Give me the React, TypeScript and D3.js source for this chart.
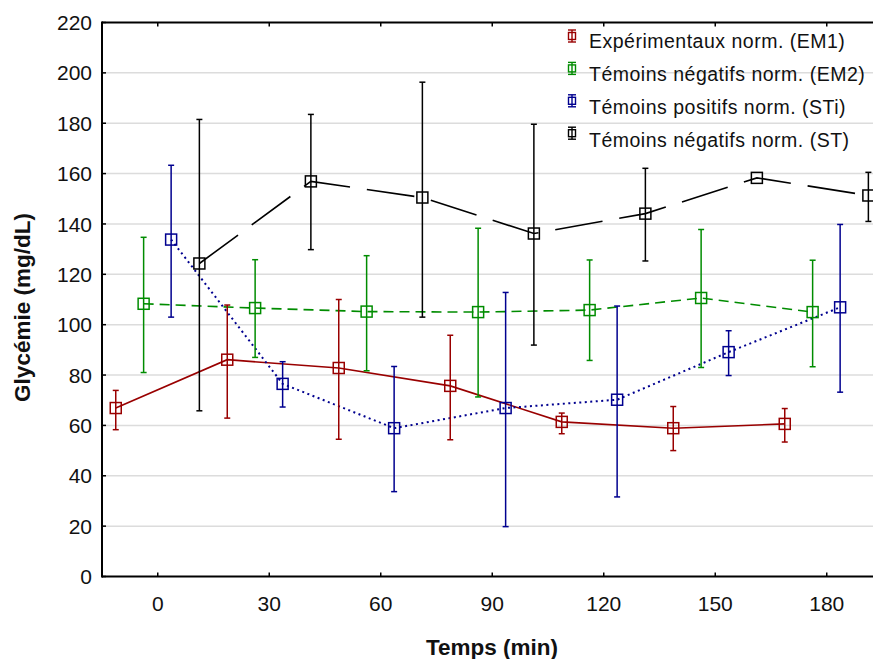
import * as d3 from "d3";

const times = [0, 30, 60, 90, 120, 150, 180];
const xTicks = [0, 30, 60, 90, 120, 150, 180];
const yTicks = [0, 20, 40, 60, 80, 100, 120, 140, 160, 180, 200, 220];

// EM1
const em1Mean = [66.9, 86.1, 82.8, 75.7, 61.4, 58.9, 60.6];
const em1Low = [58.3, 62.9, 54.5, 54.3, 56.7, 50.0, 53.4];
const em1High = [73.9, 107.8, 110.0, 95.8, 64.9, 67.5, 66.7];
// EM2
const em2Mean = [108.3, 106.6, 105.2, 105.0, 105.8, 110.6, 105.0];
const em2Low = [81.0, 87.0, 81.7, 71.3, 85.8, 83.0, 83.3];
const em2High = [134.7, 125.8, 127.4, 138.3, 125.7, 137.8, 125.6];
// STi
const stiMean = [133.8, 76.5, 58.9, 66.9, 70.2, 89.1, 106.9];
const stiLow = [103.0, 67.3, 33.7, 19.8, 31.6, 79.8, 73.2];
const stiHigh = [163.3, 85.3, 83.4, 112.8, 107.4, 97.6, 139.8];
// ST
const stMean = [124.3, 156.9, 150.5, 136.2, 144.1, 158.3, 151.3];
const stLow = [65.8, 129.8, 103.0, 91.9, 125.3, 158.3, 141.0];
const stHigh = [181.5, 183.5, 196.3, 179.6, 162.1, 158.3, 160.5];

const seriesNames = [
  "Expérimentaux norm. (EM1)",
  "Témoins négatifs norm. (EM2)",
  "Témoins positifs norm. (STi)",
  "Témoins négatifs norm. (ST)",
];

const series = [
  { name: seriesNames[0], mean: em1Mean, low: em1Low, high: em1High, shift: -11.3, color: "#990000", dash: "" },
  { name: seriesNames[1], mean: em2Mean, low: em2Low, high: em2High, shift: -3.8, color: "#008c00", dash: "10 6" },
  { name: seriesNames[2], mean: stiMean, low: stiLow, high: stiHigh, shift: 3.6, color: "#00008f", dash: "2 3.5" },
  { name: seriesNames[3], mean: stMean, low: stLow, high: stHigh, shift: 11.2, color: "#000000", dash: "48 17" },
];

export default function App() {
  const width = 873;
  const height = 659;
  const margin = { top: 22.5, left: 102, bottom: 82.5 };

  const xScale = d3.scaleLinear().domain([-15, 195]).range([margin.left, margin.left + 210 * (111.5 / 30)]);
  const yScale = d3.scaleLinear().domain([0, 220]).range([height - margin.bottom, margin.top]);

  const font = "'Liberation Sans', Arial, sans-serif";
  const y0 = yScale(0);
  const yTop = yScale(220);

  return (
    <svg width={width} height={height} style={{ position: "absolute", left: 0, top: 0 }} fontFamily={font}>
      <rect width={width} height={height} fill="#fff" />
      {/* grid */}
      {yTicks.slice(1, -1).map((t) => (
        <line key={t} x1={margin.left} x2={width} y1={yScale(t)} y2={yScale(t)} stroke="#dcdcdc" strokeWidth={1.5} />
      ))}

      {/* series lines */}
      {series.map((s) => {
        const gen = d3
          .line<number>()
          .x((_, i) => xScale(times[i] + s.shift))
          .y((d) => yScale(d));
        return (
          <path
            key={s.name + "l"}
            d={gen(s.mean) || ""}
            fill="none"
            stroke={s.color}
            strokeWidth={s.dash === "2 3.5" ? 2 : 1.6}
            strokeDasharray={s.dash || undefined}
          />
        );
      })}

      {/* error bars and markers */}
      {series.map((s) => (
        <g key={s.name + "e"} stroke={s.color} strokeWidth={1.5} fill="none">
          {s.mean.map((m, i) => {
            const x = xScale(times[i] + s.shift);
            const yl = yScale(s.low[i]);
            const yh = yScale(s.high[i]);
            const ym = yScale(m);
            return (
              <g key={i}>
                {s.low[i] !== s.high[i] && (
                  <>
                    <line x1={x} x2={x} y1={yl} y2={yh} />
                    <line x1={x - 3} x2={x + 3} y1={yh} y2={yh} />
                    <line x1={x - 3} x2={x + 3} y1={yl} y2={yl} />
                  </>
                )}
                <rect x={x - 5.5} y={ym - 5.5} width={11} height={11} />
              </g>
            );
          })}
        </g>
      ))}

      {/* frame */}
      <line x1={margin.left} x2={width} y1={yTop} y2={yTop} stroke="#000" strokeWidth={2} />
      <line x1={margin.left} x2={width} y1={y0} y2={y0} stroke="#000" strokeWidth={2} />
      <line x1={margin.left} x2={margin.left} y1={yTop - 1} y2={y0 + 1} stroke="#000" strokeWidth={2} />

      {/* y ticks */}
      {yTicks.map((t) => (
        <g key={t}>
          <line x1={margin.left} x2={margin.left + 4} y1={yScale(t)} y2={yScale(t)} stroke="#000" strokeWidth={1.5} />
          <text x={92} y={yScale(t)} dy="0.36em" textAnchor="end" fontSize={21} fill="#111">
            {t}
          </text>
        </g>
      ))}

      {/* x ticks */}
      {xTicks.map((t) => (
        <g key={t}>
          <line x1={xScale(t)} x2={xScale(t)} y1={y0} y2={y0 - 4} stroke="#000" strokeWidth={1.5} />
          <line x1={xScale(t)} x2={xScale(t)} y1={yTop} y2={yTop + 4} stroke="#000" strokeWidth={1.5} />
          <text x={xScale(t)} y={610.5} textAnchor="middle" fontSize={21} fill="#111">
            {t}
          </text>
        </g>
      ))}

      {/* axis titles */}
      <text
        transform={`translate(30, ${(y0 + yTop) / 2 + 8}) rotate(-90)`}
        textAnchor="middle"
        fontSize={22.5}
        fontWeight="bold"
        fill="#111"
      >
        Glycémie (mg/dL)
      </text>
      <text x={492} y={655} textAnchor="middle" fontSize={22.5} fontWeight="bold" fill="#111">
        Temps (min)
      </text>

      {/* legend */}
      {series.map((s, i) => {
        const cy = 36 + i * 32.4;
        const ty = 48.4 + i * 33;
        return (
          <g key={s.name + "g"}>
            <g stroke={s.color} strokeWidth={1.4} fill="none">
              <line x1={572} x2={572} y1={cy - 6} y2={cy + 6} />
              <line x1={568} x2={576} y1={cy - 6} y2={cy - 6} />
              <line x1={568} x2={576} y1={cy + 6} y2={cy + 6} />
              <rect x={568.5} y={cy - 3.5} width={7} height={7} />
            </g>
            <text x={589} y={ty} fontSize={19.5} fill="#111" letterSpacing={0.5}>
              {s.name}
            </text>
          </g>
        );
      })}
    </svg>
  );
}
